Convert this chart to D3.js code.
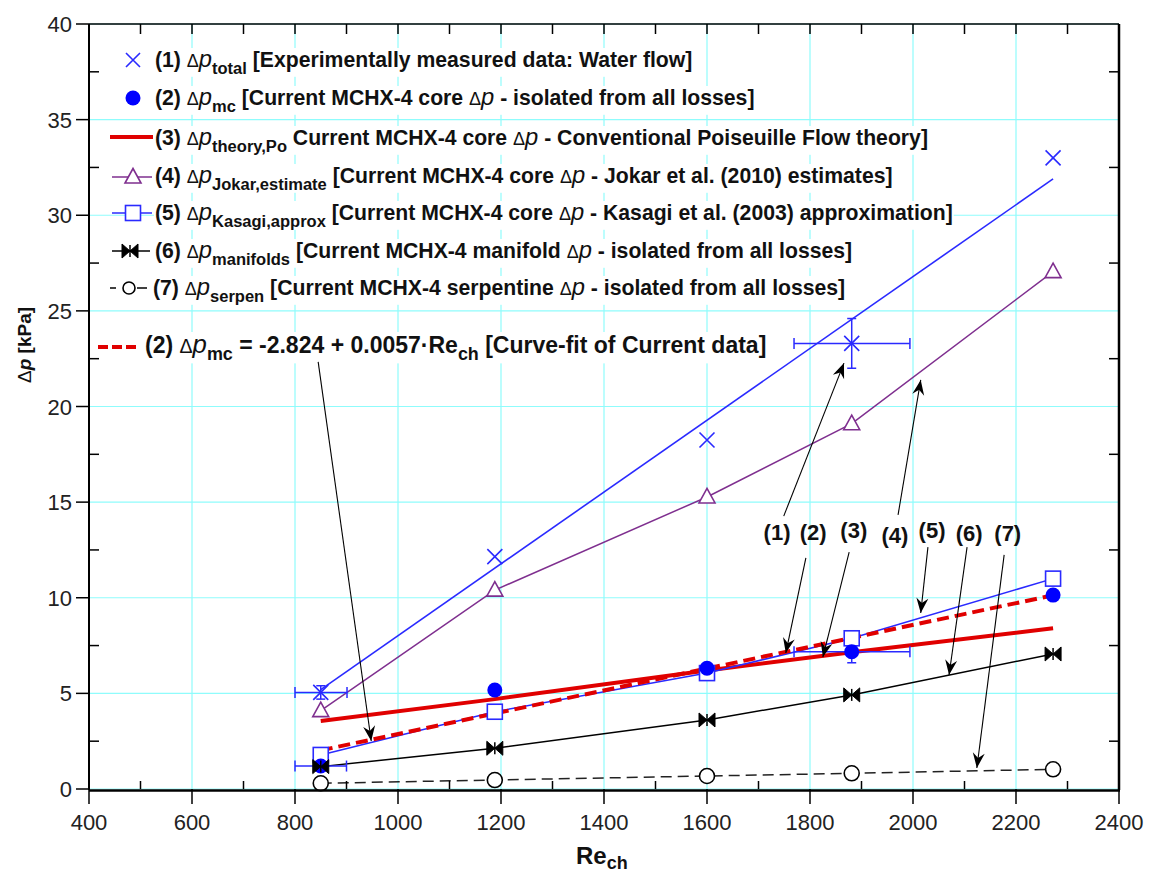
<!DOCTYPE html>
<html><head><meta charset="utf-8">
<script src="https://cdn.jsdelivr.net/npm/d3@7"></script>
<style>
html,body{margin:0;padding:0;background:#fff;}
svg{display:block;font-family:"Liberation Sans",Arial,sans-serif;}
</style></head><body>
<svg id="chart" width="1155" height="876"></svg>
<script>
// ---------------- data ----------------
const reCh = [850, 1188, 1600, 1881, 2272];
const dpTotal = [5.05, 12.15, 18.25, 23.3, 33.0];
const dpMc = [1.2, 5.18, 6.31, 7.18, 10.14];
const dpTheory = [3.56, 4.7, 6.2, 7.15, 8.4];
const dpJokar = [4.1, 10.4, 15.27, 19.1, 27.05];
const dpKasagi = [1.78, 4.04, 6.06, 7.88, 11.0];
const dpManifolds = [1.17, 2.13, 3.61, 4.92, 7.06];
const dpSerpen = [0.30, 0.47, 0.68, 0.82, 1.03];
// fit lines (end points)
const totalFitRe = [850, 2272];
const totalFitDp = [5.2, 31.9];
const mcFitRe = [850, 2272];
const mcFitDp = [2.02, 10.13];
// error bars
const totalErrRe = [850, 1881];
const totalErrReLo = [800, 1769];
const totalErrReHi = [901, 1994];
const totalErrDp = [5.05, 23.3];
const totalErrDpLo = [4.7, 22.0];
const totalErrDpHi = [5.4, 24.6];
const mcErrRe = [850, 1881];
const mcErrReLo = [800, 1769];
const mcErrReHi = [900, 1994];
const mcErrDp = [1.2, 7.18];
const mcErrDpLo = [1.1, 6.6];
const mcErrDpHi = [1.3, 7.63];
// ticks
const xTicks = [400, 600, 800, 1000, 1200, 1400, 1600, 1800, 2000, 2200, 2400];
const xMinor = [500, 700, 900, 1100, 1300, 1500, 1700, 1900, 2100, 2300];
const yTicks = [0, 5, 10, 15, 20, 25, 30, 35, 40];
const yMinor = [2.5, 7.5, 12.5, 17.5, 22.5, 27.5, 32.5, 37.5];
// annotations
const annLabels = ["(1)", "(2)", "(3)", "(4)", "(5)", "(6)", "(7)"];
const annLabelRe = [1736, 1806, 1885, 1965, 2037, 2109, 2184];
const annLabelDp = [13.44, 13.44, 13.54, 13.28, 13.54, 13.39, 13.39];
const arrowFromRe = [1749, 1792, 1876, 1971, 2029, 2105, 2177, 845];
const arrowFromDp = [14.27, 12.08, 12.39, 14.33, 12.65, 12.65, 12.24, 22.33];
const arrowToRe = [1866, 1753, 1825, 2015, 2015, 2070, 2124, 948];
const arrowToDp = [22.27, 7.11, 6.90, 21.39, 9.20, 5.96, 1.10, 2.51];

// ---------------- setup ----------------
const M = {left: 89, right: 1119, top: 24, bottom: 789};
const svg = d3.select("#chart");
const x = d3.scaleLinear().domain([400, 2400]).range([M.left, M.right]);
const y = d3.scaleLinear().domain([0, 40]).range([M.bottom, M.top]);

const BLUE = "#2a2aff", DBLUE = "#0000ff", PURPLE = "#7f2f8f", RED = "#e00000", GRID = "#8ffcfc";

const defs = svg.append("defs");
defs.append("marker").attr("id", "ah").attr("viewBox", "-16 -8 18 16")
  .attr("markerUnits", "userSpaceOnUse").attr("markerWidth", 18).attr("markerHeight", 16)
  .attr("refX", 0).attr("refY", 0).attr("orient", "auto")
  .append("path").attr("d", "M0,0 L-15,-6 L-10,0 L-15,6 Z").attr("fill", "#000");

// grid
const grid = svg.append("g");
grid.selectAll("line.gx").data(xTicks).join("line")
  .attr("x1", d => x(d)).attr("x2", d => x(d)).attr("y1", M.top).attr("y2", M.bottom)
  .attr("stroke", GRID).attr("stroke-width", 1.2);
grid.selectAll("line.gy").data(yTicks).join("line").attr("class", "gy")
  .attr("y1", d => y(d)).attr("y2", d => y(d)).attr("x1", M.left).attr("x2", M.right)
  .attr("stroke", GRID).attr("stroke-width", 1.2);

// ---------------- legend (with white text backgrounds) ----------------
const leg = svg.append("g");
function richText(g, xx, yy, parts, fs) {
  const t = g.append("text").attr("x", xx).attr("y", yy).attr("font-size", fs)
    .attr("font-weight", "bold").attr("fill", "#111");
  let shift = 0;
  parts.forEach(([s, k]) => {
    const ts = t.append("tspan").text(s);
    let target = 0;
    if (k === "d") { ts.attr("font-weight", "normal").attr("font-size", fs * 0.85); }
    if (k === "p") { ts.attr("font-style", "italic").attr("font-weight", "normal").attr("font-size", fs * 1.12); }
    if (k === "s") { ts.attr("font-size", fs * 0.78); target = fs * 0.32; }
    if (target !== shift) { ts.attr("dy", target - shift); shift = target; }
  });
  return t;
}
function bgBox(g, t) {
  const b = t.node().getBBox();
  g.insert("rect", () => t.node()).attr("x", b.x - 1).attr("y", b.y + 2)
    .attr("width", b.width + 2).attr("height", b.height - 3).attr("fill", "#fff");
}
const legendLines = [
  [["(1) ", "b"], ["Δ", "d"], ["p", "p"], ["total", "s"], [" [Experimentally measured data: Water flow]", "b"]],
  [["(2) ", "b"], ["Δ", "d"], ["p", "p"], ["mc", "s"], [" [Current MCHX-4 core ", "b"], ["Δ", "d"], ["p", "p"], [" - isolated from all losses]", "b"]],
  [["(3) ", "b"], ["Δ", "d"], ["p", "p"], ["theory,Po", "s"], [" Current MCHX-4 core ", "b"], ["Δ", "d"], ["p", "p"], [" - Conventional Poiseuille Flow theory]", "b"]],
  [["(4) ", "b"], ["Δ", "d"], ["p", "p"], ["Jokar,estimate", "s"], [" [Current MCHX-4 core ", "b"], ["Δ", "d"], ["p", "p"], [" - Jokar et al. (2010) estimates]", "b"]],
  [["(5) ", "b"], ["Δ", "d"], ["p", "p"], ["Kasagi,approx", "s"], [" [Current MCHX-4 core ", "b"], ["Δ", "d"], ["p", "p"], [" - Kasagi et al. (2003) approximation]", "b"]],
  [["(6) ", "b"], ["Δ", "d"], ["p", "p"], ["manifolds", "s"], [" [Current MCHX-4 manifold ", "b"], ["Δ", "d"], ["p", "p"], [" - isolated from all losses]", "b"]],
  [["(7) ", "b"], ["Δ", "d"], ["p", "p"], ["serpen", "s"], [" [Current MCHX-4 serpentine ", "b"], ["Δ", "d"], ["p", "p"], [" - isolated from all losses]", "b"]]
];
const legBase = [67, 105, 145, 183, 220, 258, 295];
const legX = [155, 155, 155, 155, 155, 155, 153];
legendLines.forEach((parts, i) => {
  const t = richText(leg, legX[i], legBase[i], parts, 21.2);
  bgBox(leg, t);
});
const fitT = richText(leg, 145, 353, [["(2) ", "b"], ["Δ", "d"], ["p", "p"], ["mc", "s"], [" = -2.824 + 0.0057·Re", "b"], ["ch", "s"], [" [Curve-fit of Current data]", "b"]], 23);
bgBox(leg, fitT);

// ---------------- marker helpers ----------------
function drawX(g, cx, cy, s, col) {
  g.append("path").attr("d", `M${cx - s},${cy - s} L${cx + s},${cy + s} M${cx - s},${cy + s} L${cx + s},${cy - s}`)
    .attr("stroke", col).attr("stroke-width", 1.6).attr("fill", "none");
}
function drawTri(g, cx, cy) {
  g.append("path").attr("d", `M${cx},${cy - 8.5} L${cx + 8},${cy + 6} L${cx - 8},${cy + 6} Z`)
    .attr("stroke", PURPLE).attr("stroke-width", 1.6).attr("fill", "#fff");
}
function drawSq(g, cx, cy) {
  g.append("rect").attr("x", cx - 7.5).attr("y", cy - 7.5).attr("width", 15).attr("height", 15)
    .attr("stroke", BLUE).attr("stroke-width", 1.6).attr("fill", "#fff");
}
function drawBow(g, cx, cy) {
  g.append("path").attr("d", `M${cx - 8},${cy - 7} L${cx},${cy} L${cx - 8},${cy + 7} Z M${cx + 8},${cy - 7} L${cx},${cy} L${cx + 8},${cy + 7} Z`)
    .attr("fill", "#000").attr("stroke", "#000").attr("stroke-width", 1);
  g.append("line").attr("x1", cx).attr("x2", cx).attr("y1", cy - 6).attr("y2", cy + 6).attr("stroke", "#000").attr("stroke-width", 1.5);
}
function drawOC(g, cx, cy, r) {
  g.append("circle").attr("cx", cx).attr("cy", cy).attr("r", r).attr("fill", "#fff").attr("stroke", "#000").attr("stroke-width", 1.6);
}
function drawFC(g, cx, cy, r) {
  g.append("circle").attr("cx", cx).attr("cy", cy).attr("r", r).attr("fill", DBLUE);
}

// legend samples
const lsx = 133;
drawX(leg, lsx, 60, 7, BLUE);
drawFC(leg, lsx, 98, 7.5);
leg.append("line").attr("x1", 110).attr("x2", 153).attr("y1", 137).attr("y2", 137).attr("stroke", RED).attr("stroke-width", 4);
leg.append("line").attr("x1", 112).attr("x2", 152).attr("y1", 177).attr("y2", 177).attr("stroke", PURPLE).attr("stroke-width", 1.5);
drawTri(leg, 133, 177);
leg.append("line").attr("x1", 112).attr("x2", 152).attr("y1", 213).attr("y2", 213).attr("stroke", BLUE).attr("stroke-width", 1.5);
drawSq(leg, 133, 213);
leg.append("line").attr("x1", 112).attr("x2", 150).attr("y1", 251).attr("y2", 251).attr("stroke", "#000").attr("stroke-width", 1.5);
drawBow(leg, 130, 251);
leg.append("line").attr("x1", 110).attr("x2", 116).attr("y1", 288).attr("y2", 288).attr("stroke", "#000").attr("stroke-width", 1.5);
leg.append("line").attr("x1", 137).attr("x2", 147).attr("y1", 288).attr("y2", 288).attr("stroke", "#000").attr("stroke-width", 1.5);
drawOC(leg, 129, 288, 6);
leg.append("line").attr("x1", 98).attr("x2", 138).attr("y1", 347).attr("y2", 347).attr("stroke", RED).attr("stroke-width", 4).attr("stroke-dasharray", "10,4");

// ---------------- series lines ----------------
const plot = svg.append("g");
const line = d3.line().x(d => x(d[0])).y(d => y(d[1]));
const zip = (a, b) => a.map((v, i) => [v, b[i]]);

plot.append("path").attr("d", line(zip(reCh, dpSerpen))).attr("fill", "none").attr("stroke", "#222").attr("stroke-width", 1.5).attr("stroke-dasharray", "11,6");
plot.append("path").attr("d", line(zip(reCh, dpManifolds))).attr("fill", "none").attr("stroke", "#000").attr("stroke-width", 1.5);
plot.append("path").attr("d", line(zip(reCh, dpJokar))).attr("fill", "none").attr("stroke", PURPLE).attr("stroke-width", 1.5);
plot.append("path").attr("d", line(zip(totalFitRe, totalFitDp))).attr("fill", "none").attr("stroke", BLUE).attr("stroke-width", 1.6);
plot.append("path").attr("d", line(zip(reCh, dpTheory))).attr("fill", "none").attr("stroke", RED).attr("stroke-width", 4);
plot.append("path").attr("d", line(zip(reCh, dpKasagi))).attr("fill", "none").attr("stroke", BLUE).attr("stroke-width", 1.5);
plot.append("path").attr("d", line(zip(mcFitRe, mcFitDp))).attr("fill", "none").attr("stroke", RED).attr("stroke-width", 4).attr("stroke-dasharray", "12,6");

// error bars
function errBars(re, lo, hi, dp, dlo, dhi) {
  re.forEach((r, i) => {
    const cy = y(dp[i]), cx = x(r);
    plot.append("line").attr("x1", x(lo[i])).attr("x2", x(hi[i])).attr("y1", cy).attr("y2", cy).attr("stroke", BLUE).attr("stroke-width", 1.5);
    [lo[i], hi[i]].forEach(v => plot.append("line").attr("x1", x(v)).attr("x2", x(v)).attr("y1", cy - 5.5).attr("y2", cy + 5.5).attr("stroke", BLUE).attr("stroke-width", 1.5));
    plot.append("line").attr("x1", cx).attr("x2", cx).attr("y1", y(dlo[i])).attr("y2", y(dhi[i])).attr("stroke", BLUE).attr("stroke-width", 1.5);
    [dlo[i], dhi[i]].forEach(v => plot.append("line").attr("x1", cx - 4.5).attr("x2", cx + 4.5).attr("y1", y(v)).attr("y2", y(v)).attr("stroke", BLUE).attr("stroke-width", 1.5));
  });
}
errBars(totalErrRe, totalErrReLo, totalErrReHi, totalErrDp, totalErrDpLo, totalErrDpHi);
errBars(mcErrRe, mcErrReLo, mcErrReHi, mcErrDp, mcErrDpLo, mcErrDpHi);

// markers
reCh.forEach((r, i) => drawOC(plot, x(r), y(dpSerpen[i]), 7.5));
reCh.forEach((r, i) => drawSq(plot, x(r), y(dpKasagi[i])));
reCh.forEach((r, i) => drawTri(plot, x(r), y(dpJokar[i])));
reCh.forEach((r, i) => drawX(plot, x(r), y(dpTotal[i]), 7.5, BLUE));
reCh.forEach((r, i) => drawFC(plot, x(r), y(dpMc[i]), 7.5));
reCh.forEach((r, i) => drawBow(plot, x(r), y(dpManifolds[i])));

// ---------------- annotations ----------------
const ann = svg.append("g");
arrowFromRe.forEach((r, i) => {
  ann.append("line").attr("x1", x(r)).attr("y1", y(arrowFromDp[i]))
    .attr("x2", x(arrowToRe[i])).attr("y2", y(arrowToDp[i]))
    .attr("stroke", "#000").attr("stroke-width", 1.1).attr("marker-end", "url(#ah)");
});
annLabels.forEach((s, i) => {
  ann.append("text").attr("x", x(annLabelRe[i])).attr("y", y(annLabelDp[i]) + 8)
    .attr("text-anchor", "middle").attr("font-size", 22).attr("font-weight", "bold").attr("fill", "#111").text(s);
});

// ---------------- axes ----------------
const ax = svg.append("g").attr("stroke", "#000");
ax.append("line").attr("x1", M.left).attr("x2", M.right).attr("y1", M.top).attr("y2", M.top).attr("stroke-width", 1.5);
ax.append("line").attr("x1", M.right).attr("x2", M.right).attr("y1", M.top).attr("y2", M.bottom + 1).attr("stroke-width", 2.5);
ax.append("line").attr("x1", M.left).attr("x2", M.left).attr("y1", M.top).attr("y2", M.bottom + 1).attr("stroke-width", 2);
ax.append("line").attr("x1", M.left).attr("x2", M.right + 1).attr("y1", M.bottom + 1.5).attr("y2", M.bottom + 1.5).attr("stroke-width", 2.5);

xTicks.forEach(v => ax.append("line").attr("x1", x(v)).attr("x2", x(v)).attr("y1", M.bottom).attr("y2", M.bottom + 15).attr("stroke-width", 1.5));
xMinor.forEach(v => ax.append("line").attr("x1", x(v)).attr("x2", x(v)).attr("y1", M.bottom).attr("y2", M.bottom - 8).attr("stroke-width", 1.5));
xTicks.concat(xMinor).forEach(v => ax.append("line").attr("x1", x(v)).attr("x2", x(v)).attr("y1", M.top).attr("y2", M.top + 10).attr("stroke-width", 1.5));
yTicks.forEach(v => ax.append("line").attr("x1", M.left - 13).attr("x2", M.left).attr("y1", y(v)).attr("y2", y(v)).attr("stroke-width", 1.5));
yMinor.forEach(v => ax.append("line").attr("x1", M.left).attr("x2", M.left + 10).attr("y1", y(v)).attr("y2", y(v)).attr("stroke-width", 1.5));
yMinor.forEach(v => ax.append("line").attr("x1", M.right - 10).attr("x2", M.right).attr("y1", y(v)).attr("y2", y(v)).attr("stroke-width", 1.5));

const lab = svg.append("g").attr("fill", "#222").attr("font-size", 22);
xTicks.forEach(v => lab.append("text").attr("x", x(v)).attr("y", 830).attr("text-anchor", "middle").text(v));
yTicks.forEach(v => lab.append("text").attr("x", 72).attr("y", y(v) + 8).attr("text-anchor", "end").text(v));

// axis titles
const xt = svg.append("text").attr("x", 576).attr("y", 864).attr("font-size", 24).attr("font-weight", "bold").attr("fill", "#111");
xt.append("tspan").text("Re");
xt.append("tspan").text("ch").attr("font-size", 18).attr("dy", 5);

const yt = svg.append("text").attr("transform", "translate(31,345) rotate(-90)").attr("text-anchor", "middle")
  .attr("font-size", 19).attr("font-weight", "bold").attr("fill", "#111");
yt.append("tspan").text("Δ").attr("font-weight", "normal");
yt.append("tspan").text("p").attr("font-style", "italic");
yt.append("tspan").text(" [kPa]");
</script>
</body></html>
